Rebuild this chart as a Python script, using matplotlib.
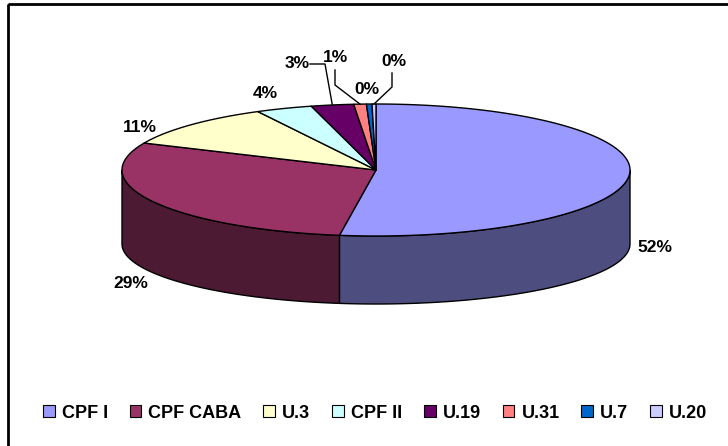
import numpy as np
import matplotlib.pyplot as plt
from matplotlib.patches import Polygon, Rectangle, Patch

plt.rcParams['font.family'] = ['Liberation Sans', 'DejaVu Sans']

# share of each unit, in percent
labels = ['CPF I', 'CPF CABA', 'U.3', 'CPF II', 'U.19', 'U.31', 'U.7', 'U.20']
shares = [52.3, 29.4, 10.6, 3.6, 2.7, 0.8, 0.35, 0.25]
colors = ['#9999FF', '#993366', '#FFFFCC', '#CCFFFF', '#660066', '#FF8080', '#0066CC', '#CCCCFF']

# where each percentage label sits (pixels) and optional leader line
label_pos = [(655, 247), (131, 283), (140, 128), (265, 93), (297, 64), (335, 57), (367, 90), (394, 61)]
leaders = {4: [(325, 64), (310, 64)], 5: [(335, 85), (335, 70)], 7: [(392, 87), (392, 73)]}

fig = plt.figure(figsize=(7.28, 4.46), dpi=100)
ax = fig.add_axes([0, 0, 1, 1])
ax.set_xlim(0, 728)
ax.set_ylim(446, 0)
ax.axis('off')

cx, cy, rx, ry = 376, 170, 254, 66
depth, ry_low = 74, 60

fracs = np.array(shares) / sum(shares)
ends = 90 - 360 * np.cumsum(fracs)
starts = ends + 360 * fracs


def top(t):
    t = np.radians(t)
    return np.column_stack([cx + rx * np.cos(t), cy - ry * np.sin(t)])


def low(t):
    t = np.radians(t)
    return np.column_stack([cx + rx * np.cos(t), cy + depth - ry_low * np.sin(t)])


def darker(c, f=0.5):
    r, g, b = [int(c[i:i + 2], 16) for i in (1, 3, 5)]
    return (r * f / 255, g * f / 255, b * f / 255)


# front walls of the disc
for s, e, c in zip(starts, ends, colors):
    lo, hi = max(e, -180), min(s, 0)
    if lo < hi:
        t = np.linspace(hi, lo, 80)
        pts = np.vstack([top(t), low(t[::-1])])
        ax.add_patch(Polygon(pts, closed=True, fc=darker(c), ec='black', lw=1, zorder=1))

# top face
for s, e, c in zip(starts, ends, colors):
    t = np.linspace(s, e, max(int(abs(s - e) * 2), 4))
    pts = np.vstack([[cx, cy], top(t)])
    ax.add_patch(Polygon(pts, closed=True, fc=c, ec='black', lw=1, zorder=2, joinstyle='round'))

# percentage labels
for i, (p, (x, y)) in enumerate(zip(shares, label_pos)):
    ax.text(x, y, f'{round(p):.0f}%', ha='center', va='center', fontsize=12.5,
            fontweight='bold', zorder=4)
    if i in leaders:
        mid = (starts[i] + ends[i]) / 2
        start_pt = top(np.array([mid]))[0]
        xs = [start_pt[0]] + [q[0] for q in leaders[i]]
        ys = [start_pt[1]] + [q[1] for q in leaders[i]]
        ax.plot(xs, ys, color='black', lw=1, zorder=3)

ax.add_patch(Rectangle((8, 4), 740, 460, fill=False, ec='black', lw=2, zorder=5))

handles = [Patch(fc=c, ec='black', lw=0.8) for c in colors]
fig.legend(handles, labels, ncol=8, loc='center', bbox_to_anchor=(375 / 728, 1 - 413 / 446),
           frameon=False, prop={'weight': 'bold', 'size': 13},
           handlelength=0.65, handleheight=0.65, handletextpad=0.4, columnspacing=1.2)

fig.savefig('out.png', dpi=100)
